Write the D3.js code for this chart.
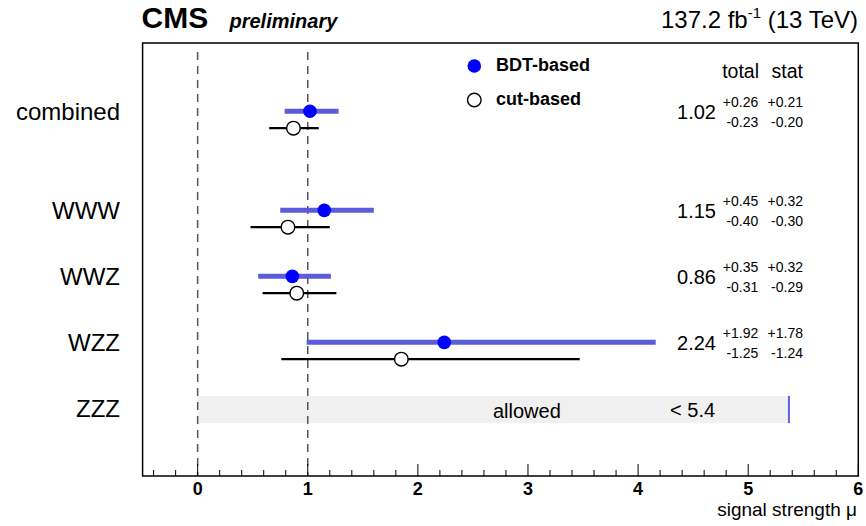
<!DOCTYPE html>
<html>
<head>
<meta charset="utf-8">
<script src="https://cdn.jsdelivr.net/npm/d3@7"></script>
<style>
  html, body { margin: 0; padding: 0; background: #fff; }
  svg { display: block; font-family: "Liberation Sans", Arial, Helvetica, sans-serif; }
</style>
</head>
<body>
<svg id="chart" width="866" height="526"></svg>
<script>
// ---- data ----
const categories = ["combined", "WWW", "WWZ", "WZZ", "ZZZ"];
const rowPos = [4.5, 3, 2, 1, 0];
const bdtMu     = [1.02, 1.15, 0.86, 2.24];
const bdtTotUp  = [0.26, 0.45, 0.35, 1.92];
const bdtTotDn  = [0.23, 0.40, 0.31, 1.25];
const bdtStatUp = [0.21, 0.32, 0.32, 1.78];
const bdtStatDn = [0.20, 0.30, 0.29, 1.24];
const cutMu = [0.87, 0.82, 0.90, 1.85];
const cutLo = [0.65, 0.48, 0.59, 0.76];
const cutHi = [1.10, 1.20, 1.26, 3.47];
const zzzLimit = 5.37;
const zzzLimitLabel = "< 5.4";
const majorTicks = [0, 1, 2, 3, 4, 5, 6];
const minorTicks = d3.range(-0.4, 6.0, 0.2).map(v => Math.round(v * 10) / 10);
const refLines = [0, 1];

// ---- layout ----
const svg = d3.select("#chart");
const L = 142.6, R = 858.3, T = 43, B = 476;
const x = d3.scaleLinear().domain([-0.5, 6]).range([L, R]);
const y = d3.scaleLinear().domain([-0.9, 5.66]).range([B, T]);
const blueBar = "#5b5bdb";
const blueDot = "#0000ff";

// ZZZ allowed band
const zRow = y(rowPos[4]);
svg.append("rect")
  .attr("x", x(0)).attr("y", zRow - 20.7)
  .attr("width", x(zzzLimit) - x(0)).attr("height", 27.3)
  .attr("fill", "#f0f0f0");
svg.append("line")
  .attr("x1", x(zzzLimit)).attr("x2", x(zzzLimit))
  .attr("y1", zRow - 20.7).attr("y2", zRow + 6.6)
  .attr("stroke", "#6060e8").attr("stroke-width", 2);
svg.append("text").attr("x", x(2.99)).attr("y", zRow + 1.3)
  .attr("text-anchor", "middle").attr("font-size", 20).text("allowed");
svg.append("text").attr("x", x(4.29)).attr("y", zRow)
  .attr("text-anchor", "start").attr("font-size", 20).text(zzzLimitLabel);

// reference dashed lines
svg.selectAll("line.ref").data(refLines).enter().append("line")
  .attr("class", "ref")
  .attr("x1", d => x(d)).attr("x2", d => x(d))
  .attr("y1", T + 9).attr("y2", B)
  .attr("stroke", "#555").attr("stroke-width", 1.5)
  .attr("stroke-dasharray", "8,6");

// BDT bars and points
const bdt = bdtMu.map((m, i) => ({ m, lo: m - bdtTotDn[i], hi: m + bdtTotUp[i], r: rowPos[i] }));
const cut = cutMu.map((m, i) => ({ m, lo: cutLo[i], hi: cutHi[i], r: rowPos[i] }));
const bdtOff = 0.125, cutOff = -0.13;

svg.selectAll("line.cutbar").data(cut).enter().append("line")
  .attr("x1", d => x(d.lo)).attr("x2", d => x(d.hi))
  .attr("y1", d => y(d.r + cutOff)).attr("y2", d => y(d.r + cutOff))
  .attr("stroke", "#000").attr("stroke-width", 2.2);
svg.selectAll("circle.cut").data(cut).enter().append("circle")
  .attr("cx", d => x(d.m)).attr("cy", d => y(d.r + cutOff)).attr("r", 6.8)
  .attr("fill", "#fff").attr("stroke", "#000").attr("stroke-width", 1.4);

svg.selectAll("line.bdtbar").data(bdt).enter().append("line")
  .attr("x1", d => x(d.lo)).attr("x2", d => x(d.hi))
  .attr("y1", d => y(d.r + bdtOff)).attr("y2", d => y(d.r + bdtOff))
  .attr("stroke", blueBar).attr("stroke-width", 5);
svg.selectAll("circle.bdt").data(bdt).enter().append("circle")
  .attr("cx", d => x(d.m)).attr("cy", d => y(d.r + bdtOff)).attr("r", 6.8)
  .attr("fill", blueDot);

// value annotations
bdtMu.forEach((m, i) => {
  const yr = y(rowPos[i]);
  svg.append("text").attr("x", 716).attr("y", yr - 0.8)
    .attr("text-anchor", "end").attr("font-size", 20).text(m.toFixed(2));
  const cols = [[758.3, bdtTotUp[i], bdtTotDn[i]], [803, bdtStatUp[i], bdtStatDn[i]]];
  cols.forEach(([cx, up, dn]) => {
    svg.append("text").attr("x", cx).attr("y", yr - 12.5)
      .attr("text-anchor", "end").attr("font-size", 14).text("+" + up.toFixed(2));
    svg.append("text").attr("x", cx).attr("y", yr + 7)
      .attr("text-anchor", "end").attr("font-size", 14).text("-" + dn.toFixed(2));
  });
});
svg.append("text").attr("x", 759).attr("y", 78).attr("text-anchor", "end")
  .attr("font-size", 19.5).text("total");
svg.append("text").attr("x", 803).attr("y", 78).attr("text-anchor", "end")
  .attr("font-size", 19.5).text("stat");

// legend
svg.append("circle").attr("cx", 474.3).attr("cy", 66).attr("r", 6.8).attr("fill", blueDot);
svg.append("text").attr("x", 496).attr("y", 71).attr("font-size", 18)
  .attr("font-weight", "bold").text("BDT-based");
svg.append("circle").attr("cx", 474.3).attr("cy", 100).attr("r", 6.8)
  .attr("fill", "#fff").attr("stroke", "#000").attr("stroke-width", 1.4);
svg.append("text").attr("x", 496).attr("y", 105).attr("font-size", 18)
  .attr("font-weight", "bold").text("cut-based");

// category labels
svg.selectAll("text.cat").data(categories).enter().append("text")
  .attr("x", 120).attr("y", (d, i) => y(rowPos[i]))
  .attr("text-anchor", "end").attr("font-size", 24).text(d => d);

// x axis ticks
svg.selectAll("line.minor").data(minorTicks.filter(v => !majorTicks.includes(Math.round(v * 10) / 10))).enter().append("line")
  .attr("x1", d => x(d)).attr("x2", d => x(d)).attr("y1", B).attr("y2", B - 6)
  .attr("stroke", "#000").attr("stroke-width", 1);
svg.selectAll("line.major").data(majorTicks).enter().append("line")
  .attr("x1", d => x(d)).attr("x2", d => x(d)).attr("y1", B).attr("y2", B - 12)
  .attr("stroke", "#000").attr("stroke-width", 1);
svg.selectAll("text.tick").data(majorTicks).enter().append("text")
  .attr("x", d => x(d)).attr("y", 495).attr("text-anchor", "middle")
  .attr("font-size", 18).attr("font-weight", "bold").text(d => d);
svg.append("text").attr("x", 857).attr("y", 516).attr("text-anchor", "end")
  .attr("font-size", 19).text("signal strength μ");

// frame
svg.append("rect").attr("x", L).attr("y", T).attr("width", R - L).attr("height", B - T)
  .attr("fill", "none").attr("stroke", "#000").attr("stroke-width", 1.5);

// header
svg.append("text").attr("x", 141.5).attr("y", 28).attr("font-size", 30)
  .attr("font-weight", "bold").text("CMS");
svg.append("text").attr("x", 229.5).attr("y", 28).attr("font-size", 20)
  .attr("font-weight", "bold").attr("font-style", "italic").text("preliminary");
const lumi = svg.append("text").attr("x", 858).attr("y", 28).attr("text-anchor", "end")
  .attr("font-size", 24);
lumi.append("tspan").text("137.2 fb");
lumi.append("tspan").attr("dy", -10).attr("font-size", 15).text("-1");
lumi.append("tspan").attr("dy", 10).text(" (13 TeV)");
</script>
</body>
</html>
